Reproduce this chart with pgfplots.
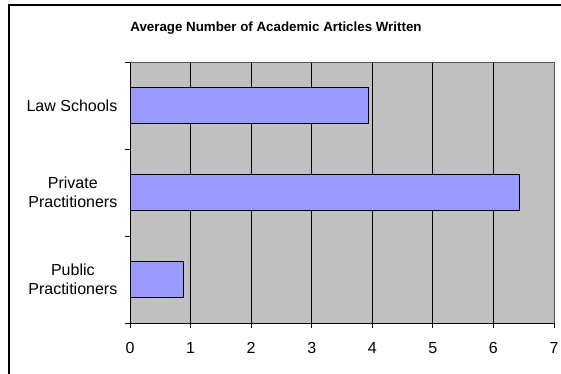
\documentclass[border=0pt]{standalone}
\usepackage{fontspec}
\setmainfont{Liberation Sans}
\usepackage{pgfplots}
\pgfplotsset{compat=1.18}
\definecolor{plotgray}{HTML}{C0C0C0}
\definecolor{barblue}{HTML}{9999FF}

\begin{document}
\begin{tikzpicture}
  % picture frame: 561x374 px at 0.75pt per px
  \useasboundingbox (0,0) rectangle (420.75pt,280.5pt);
  \draw[line width=1.1pt] (6.75pt,0pt) -- (6.75pt,276.75pt) -- (420.75pt,276.75pt);
  \node[font=\bfseries\fontsize{10}{12}\selectfont] at (207pt,259.5pt)
    {Average Number of Academic Articles Written};

  \begin{axis}[
      at={(97.5pt,38.25pt)},
      anchor=south west,
      scale only axis,
      width=318pt,
      height=195.75pt,
      xbar,
      bar width=27pt,
      bar shift=0pt,
      xmin=0, xmax=7,
      ymin=-0.5, ymax=2.5,
      xtick={0,...,7},
      ytick={0,1,2},
      yticklabels={{Public\\Practitioners},{Private\\Practitioners},{Law Schools}},
      yticklabel style={align=center, xshift=-6pt},
      xticklabel style={yshift=-11pt},
      extra y ticks={-0.5,0.5,1.5,2.5},
      extra y tick labels={},
      extra y tick style={major tick length=4pt, tick align=outside,
        tick style={black, line width=0.6pt}},
      major tick length=0pt,
      extra x ticks={0,...,7},
      extra x tick labels={},
      extra x tick style={major tick length=4pt, tick align=outside,
        tick style={black, line width=0.6pt}, grid=none},
      tick label style={font=\fontsize{12}{14}\selectfont},
      /pgf/number format/assume math mode=true,
      xmajorgrids,
      major grid style={black, line width=0.6pt},
      axis x line*=bottom,
      axis y line*=left,
      axis line style={black, line width=0.7pt, -},
      axis background/.style={fill=plotgray},
      clip=false,
    ]
    \addplot[fill=barblue, draw=black, line width=0.7pt] coordinates {
      (0.88,0) % Public Practitioners
      (6.43,1) % Private Practitioners
      (3.93,2) % Law Schools
    };
    \draw[gray!70!black, line width=0.5pt] (rel axis cs:0,1) -- (rel axis cs:1,1) -- (rel axis cs:1,0);
  \end{axis}
\end{tikzpicture}
\end{document}
